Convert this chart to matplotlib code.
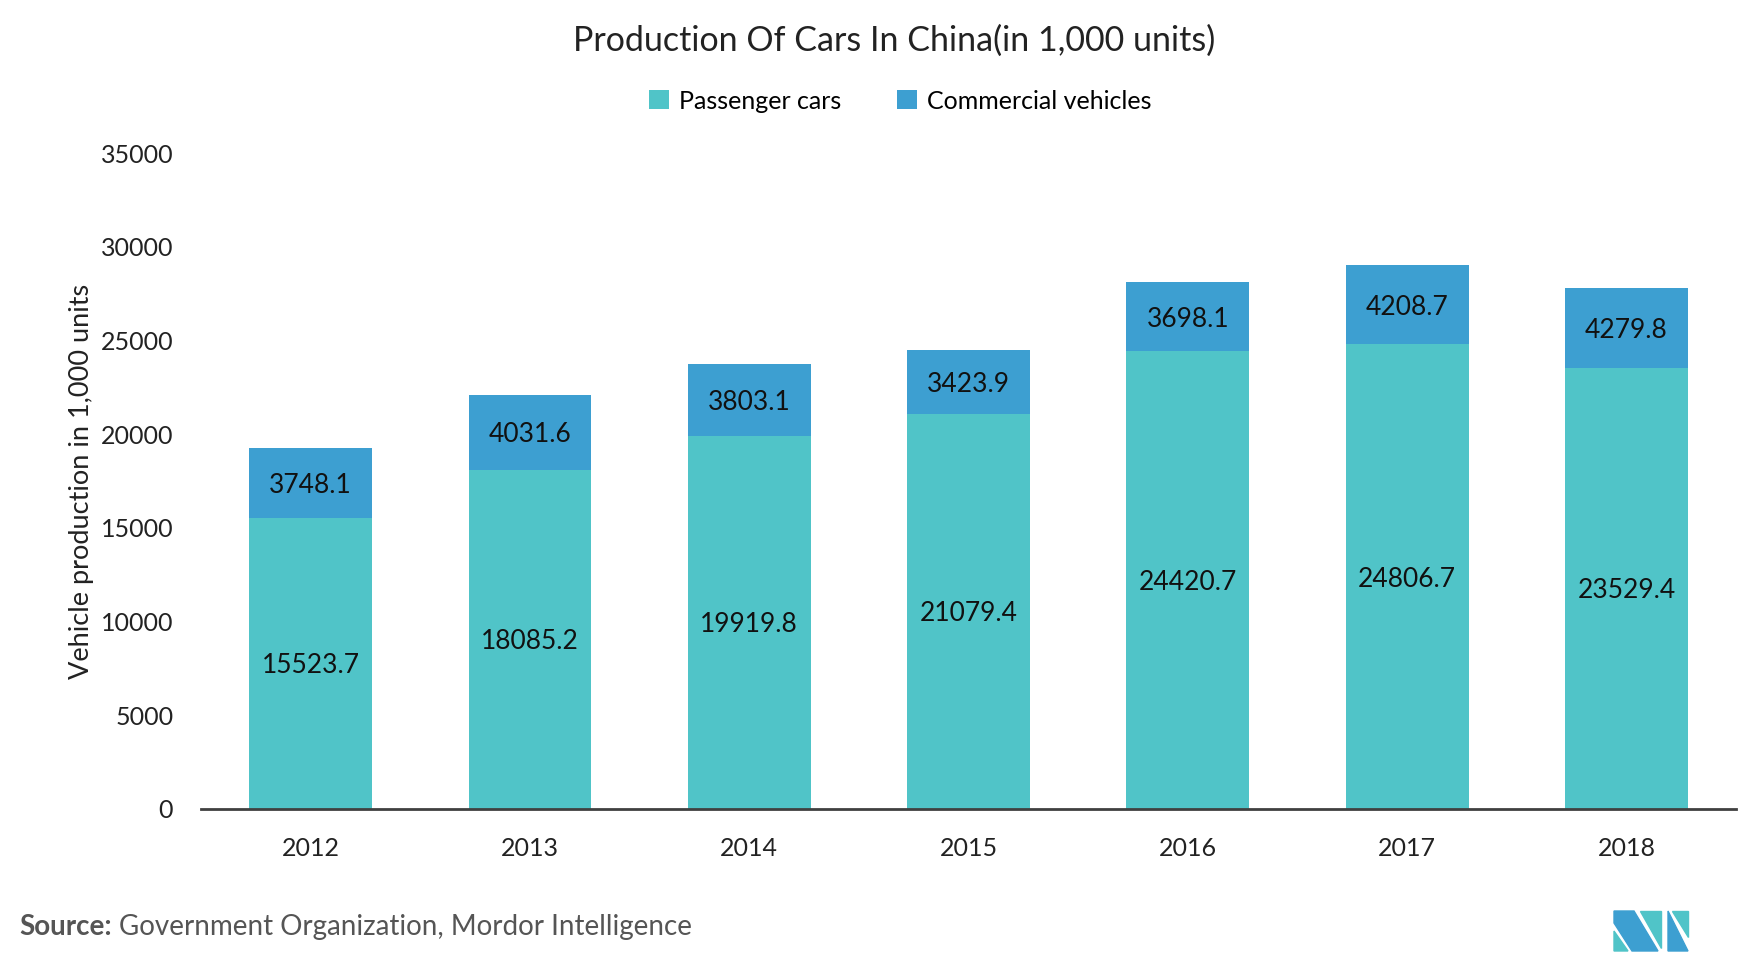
import matplotlib.pyplot as plt
import numpy as np
from matplotlib.patches import Polygon

years = ['2012', '2013', '2014', '2015', '2016', '2017', '2018']
passenger = [15523.7, 18085.2, 19919.8, 21079.4, 24420.7, 24806.7, 23529.4]
commercial = [3748.1, 4031.6, 3803.1, 3423.9, 3698.1, 4208.7, 4279.8]

c_pass = '#50C4C8'
c_comm = '#3D9FD1'

plt.rcParams['font.family'] = ['Lato', 'DejaVu Sans']

fig = plt.figure(figsize=(17.6, 9.63), dpi=100)
ax = fig.add_axes([0.1142, 0.160, 0.8722, 0.681])

x = np.arange(len(years))
w = 0.56
ax.bar(x, passenger, w, color=c_pass, label='Passenger cars')
ax.bar(x, commercial, w, bottom=passenger, color=c_comm, label='Commercial vehicles')

for i in x:
    ax.text(i, passenger[i] / 2, f'{passenger[i]:.1f}', ha='center', va='center_baseline', fontsize=19, color='#111111')
    ax.text(i, passenger[i] + commercial[i] / 2, f'{commercial[i]:.1f}', ha='center', va='center_baseline', fontsize=19, color='#111111')

ax.set_xlim(-0.5, 6.5)
ax.set_ylim(0, 35000)
ax.set_yticks(range(0, 35001, 5000))
ax.set_xticks(x)
ax.set_xticklabels(years)
ax.tick_params(axis='both', length=0, labelsize=18, colors='#222222')
ax.tick_params(axis='x', pad=20)
ax.tick_params(axis='y', pad=20)
for s in ['top', 'right', 'left']:
    ax.spines[s].set_visible(False)
ax.spines['bottom'].set_color('#404040')
ax.spines['bottom'].set_linewidth(2)
ax.set_ylabel('Vehicle production in 1,000 units', fontsize=19.5, color='#222222', labelpad=5)

fig.text(0.508, 0.958, 'Production Of Cars In China(in 1,000 units)', ha='center', va='center', fontsize=24.5, color='#222222')
fig.legend(loc='center', bbox_to_anchor=(0.5115, 0.895), ncol=2, frameon=False, fontsize=18,
           handlelength=0.8, handleheight=0.8, handletextpad=0.4, columnspacing=2.2)

src = fig.text(0.011, 0.037, 'Source:', fontsize=20, fontweight='bold', color='#555555', va='center')
fig.canvas.draw()
bb = src.get_window_extent()
fig.text((bb.x1 + 7) / fig.bbox.width, 0.037, 'Government Organization, Mordor Intelligence',
         fontsize=20, color='#555555', va='center')

# logo
lx0, ly0 = 1614 / 1760, 1 - 951 / 963
sw, sh = 1 / 1760, 1 / 963
def P(pts, col):
    fig.patches.append(Polygon([(lx0 + a * sw, ly0 + b * sh) for a, b in pts], closed=True,
                               transform=fig.transFigure, color=col))
P([(0, 0), (0, 20), (14, 0)], c_pass)
P([(0, 28), (0, 40), (20, 40), (44, 0), (18, 0)], c_comm)
P([(26, 40), (47, 40), (47, 3)], c_pass)
P([(54, 0), (54, 40), (74, 0)], c_comm)
P([(58, 40), (74, 40), (74, 14)], c_pass)

fig.savefig('out.png', dpi=100)
